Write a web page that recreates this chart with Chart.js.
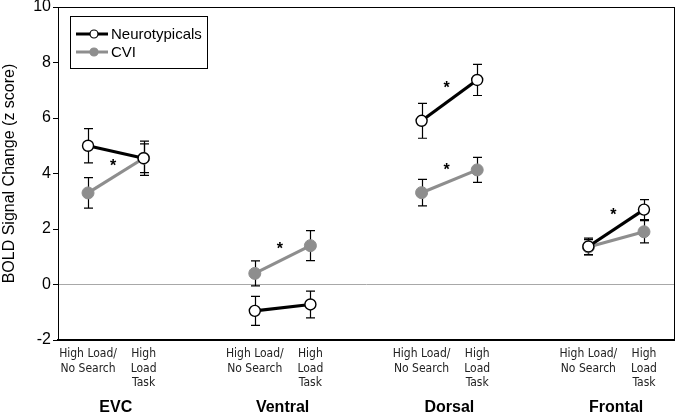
<!DOCTYPE html>
<html><head><meta charset="utf-8">
<script src="https://cdn.jsdelivr.net/npm/chart.js@4/dist/chart.umd.min.js"></script>
<style>html,body{margin:0;padding:0;background:#fff}#wrap{width:681px;height:413px}</style>
</head><body><div id="wrap"><canvas id="c" width="681" height="413"></canvas></div>
<script>
const groups = ['EVC', 'Ventral', 'Dorsal', 'Frontal'];
const conditionLabels = [['High Load/', 'No Search'], ['High', 'Load', 'Task']];
const xPositions = [0, 1, 3, 4, 6, 7, 9, 10];
const groupCenters = [0.5, 3.5, 6.5, 9.5];
const neuroValues = [5.0, 4.55, -0.95, -0.72, 5.9, 7.37, 1.37, 2.70];
const neuroErrors = [0.62, 0.62, 0.52, 0.48, 0.63, 0.56, 0.30, 0.36];
const cviValues = [3.3, 4.55, 0.40, 1.40, 3.31, 4.13, 1.35, 1.90];
const cviErrors = [0.55, 0.52, 0.45, 0.54, 0.48, 0.45, 0.27, 0.40];
const starX = [0.45, 3.45, 6.45, 6.45, 9.45];
const starY = [4.35, 1.35, 7.15, 4.2, 2.6];
const yTicks = [-2, 0, 2, 4, 6, 8, 10];
const seriesNames = ['Neurotypicals', 'CVI'];

const NEURO = '#000000';
const CVI = '#8e8e8e';
const narrow = "'Liberation Sans Narrow','Arial Narrow','DejaVu Sans Condensed','Liberation Sans',sans-serif";
const sans = "'Liberation Sans',Arial,sans-serif";

const toPts = (vals) => vals.map((v, i) => ({x: xPositions[i], y: v}));
const sameGroup = (ctx) => Math.floor(ctx.p0DataIndex / 2) === Math.floor(ctx.p1DataIndex / 2);

const errorBars = {
  id: 'errorBars',
  beforeDatasetsDraw(chart) {
    const {ctx, scales: {x, y}} = chart;
    const errs = [neuroErrors, cviErrors];
    const vals = [neuroValues, cviValues];
    ctx.save();
    ctx.strokeStyle = '#000';
    ctx.lineWidth = 1.2;
    for (let s = 1; s >= 0; s--) {
      vals[s].forEach((v, i) => {
        const px = Math.round(x.getPixelForValue(xPositions[i])) + 0.5;
        const top = y.getPixelForValue(v + errs[s][i]);
        const bot = y.getPixelForValue(v - errs[s][i]);
        ctx.beginPath();
        ctx.moveTo(px, top); ctx.lineTo(px, bot);
        ctx.moveTo(px - 4.5, top); ctx.lineTo(px + 4.5, top);
        ctx.moveTo(px - 4.5, bot); ctx.lineTo(px + 4.5, bot);
        ctx.stroke();
      });
    }
    ctx.restore();
  }
};

const extras = {
  id: 'extras',
  afterDraw(chart) {
    const {ctx, chartArea: a, scales: {x, y}} = chart;
    ctx.save();
    // frame
    ctx.strokeStyle = '#000';
    ctx.lineWidth = 1;
    ctx.strokeRect(Math.round(a.left) + 0.5, Math.round(a.top) + 0.5, Math.round(a.right - a.left), Math.round(a.bottom - a.top));
    // asterisks
    ctx.fillStyle = '#000';
    ctx.font = "bold 16px " + sans;
    ctx.textAlign = 'center';
    ctx.textBaseline = 'middle';
    starX.forEach((sx, i) => ctx.fillText('*', x.getPixelForValue(sx), y.getPixelForValue(starY[i]) + 3));
    // legend
    const lx = a.left + 12, ly = a.top + 9;
    ctx.strokeStyle = '#000';
    ctx.lineWidth = 1;
    ctx.strokeRect(lx + 0.5, ly + 0.5, 137, 52);
    const rows = [
      {name: seriesNames[0], color: NEURO, fill: '#fff', yy: ly + 18},
      {name: seriesNames[1], color: CVI, fill: CVI, yy: ly + 36}
    ];
    rows.forEach(r => {
      ctx.strokeStyle = r.color;
      ctx.lineWidth = 3;
      ctx.beginPath(); ctx.moveTo(lx + 6, r.yy); ctx.lineTo(lx + 38, r.yy); ctx.stroke();
      ctx.beginPath(); ctx.arc(lx + 24, r.yy, 4, 0, Math.PI * 2);
      ctx.fillStyle = r.fill; ctx.fill();
      ctx.lineWidth = 1.2; ctx.stroke();
      ctx.fillStyle = '#000';
      ctx.font = "15px " + sans;
      ctx.textAlign = 'left';
      ctx.fillText(r.name, lx + 41, r.yy + 1);
    });
    ctx.restore();
  }
};

new Chart(document.getElementById('c'), {
  type: 'line',
  data: {
    datasets: [
      {
        label: seriesNames[0], data: toPts(neuroValues),
        borderColor: NEURO, borderWidth: 3.2,
        pointRadius: 5.5, pointBorderWidth: 1.4, pointBackgroundColor: '#fff', pointBorderColor: '#000',
        segment: {borderColor: c => sameGroup(c) ? NEURO : 'rgba(0,0,0,0)'}
      },
      {
        label: seriesNames[1], data: toPts(cviValues),
        borderColor: CVI, borderWidth: 3.2,
        pointRadius: 6, pointBorderWidth: 1, pointBackgroundColor: CVI, pointBorderColor: CVI,
        segment: {borderColor: c => sameGroup(c) ? CVI : 'rgba(0,0,0,0)'}
      }
    ]
  },
  options: {
    responsive: false,
    animation: false,
    devicePixelRatio: 1,
    layout: {padding: {top: 6, right: 3, left: 0, bottom: 0}},
    plugins: {legend: {display: false}, tooltip: {enabled: false}},
    scales: {
      y: {
        type: 'linear', min: -2, max: 10,
        afterFit: s => { s.width = 58; s.paddingTop = 0; s.paddingBottom = 0; },
        afterBuildTicks: s => { s.ticks = yTicks.map(v => ({value: v})); },
        ticks: {color: '#000', font: {family: sans, size: 16}, padding: 2},
        grid: {
          drawOnChartArea: true,
          color: c => (c.tick && c.tick.value === 0) ? '#a8a8a8' : 'rgba(0,0,0,0)',
          tickColor: '#000', tickLength: 5, lineWidth: 1
        },
        border: {display: true, color: '#000', width: 1},
        title: {display: true, text: 'BOLD Signal Change (z score)', color: '#000', font: {family: sans, size: 16}, padding: {top: 0, bottom: 0}}
      },
      x: {
        type: 'linear', min: -0.54, max: 10.54, position: 'bottom',
        afterFit: s => { s.height = 52; },
        afterBuildTicks: s => { s.ticks = xPositions.map(v => ({value: v})); },
        ticks: {
          autoSkip: false, maxRotation: 0, minRotation: 0,
          color: '#222', font: {family: narrow, size: 12, lineHeight: 1.2}, padding: 7,
          callback: (v) => conditionLabels[xPositions.indexOf(v) % 2]
        },
        grid: {display: false, drawTicks: false},
        border: {display: true, color: '#000', width: 1.5}
      },
      x2: {
        type: 'linear', min: -0.54, max: 10.54, position: 'bottom',
        afterFit: s => { s.height = 21; },
        afterBuildTicks: s => { s.ticks = groupCenters.map(v => ({value: v})); },
        ticks: {
          autoSkip: false, maxRotation: 0, minRotation: 0,
          color: '#000', font: {family: sans, size: 16, weight: 'bold'}, padding: 6,
          callback: (v) => groups[groupCenters.indexOf(v)]
        },
        grid: {display: false, drawTicks: false},
        border: {display: false}
      }
    }
  },
  plugins: [errorBars, extras]
});
</script>
</body></html>
